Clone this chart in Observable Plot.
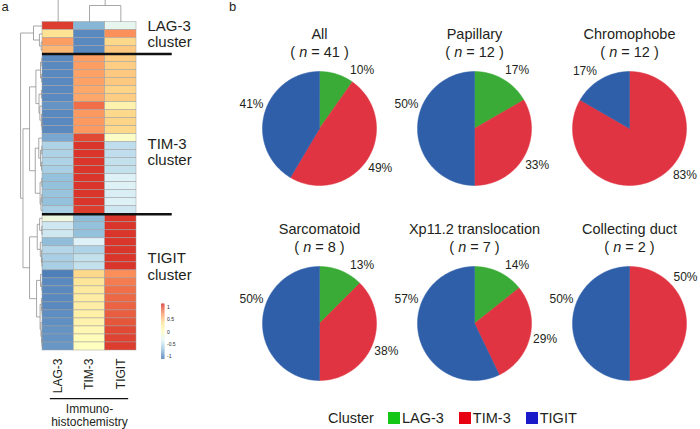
<!DOCTYPE html>
<html>
<head>
<meta charset="utf-8">
<script src="https://cdn.jsdelivr.net/npm/d3@7"></script>
<script src="https://cdn.jsdelivr.net/npm/@observablehq/plot@0.6"></script>
<style>
html, body { margin: 0; padding: 0; background: #fff; }
#wrap { position: relative; width: 700px; height: 429px; overflow: hidden;
  font-family: "Liberation Sans", Arial, sans-serif; color: #231f20; }
#wrap > * { position: absolute; }
.panel-letter { font-size: 13px; line-height: 13px; }
.clegend { display: flex; align-items: center; font-size: 14.5px; line-height: 16px; white-space: nowrap; }
.clegend .sw { display: inline-block; width: 12px; height: 12px; margin-right: 2px; }
</style>
</head>
<body>
<div id="wrap"></div>
<script>
// ---------------- data: heatmap (panel a) ----------------
const markers = ["LAG-3", "TIM-3", "TIGIT"];
const lag3Expr = [
  1.05, 0.33, 0.66, 0.55,
  -1.0, -1.0, -1.0, -1.0, -1.0, -1.0, -0.95, -1.0, -1.0, -1.0,
  -0.85, -0.6, -0.6, -0.6, -0.62, -0.72, -0.72, -0.7, -0.72, -0.62,
  -0.2, -0.45, -0.45, -0.74, -0.57, -0.62, -0.62,
  -1.05, -1.0, -1.0, -1.0, -1.0, -0.98, -0.97, -0.95, -0.95, -0.93];
const tim3Expr = [
  -0.78, -1.0, -1.0, -1.0,
  0.66, 0.66, 0.64, 0.64, 0.62, 0.62, 0.85, 0.68, 0.68, 0.68,
  1.0, 1.08, 1.08, 1.08, 1.08, 1.08, 1.08, 1.08, 1.08, 1.05,
  -0.75, -0.72, -0.72, -0.38, -0.6, -0.5, -0.5,
  0.4, 0.3, 0.25, 0.22, 0.2, 0.18, 0.15, 0.1, 0.05, 0.0];
const tigitExpr = [
  -0.3, 0.72, 0.4, 0.47,
  0.45, 0.45, 0.47, 0.47, 0.42, 0.45, 0.15, 0.4, 0.42, 0.4,
  -0.05, -0.52, -0.52, -0.5, -0.5, -0.38, -0.38, -0.4, -0.38, -0.45,
  1.08, 1.08, 1.08, 1.08, 1.08, 1.08, 1.08,
  0.73, 0.8, 0.85, 0.88, 0.9, 0.92, 0.95, 1.0, 1.02, 1.05];
const clusterNames = ["LAG-3", "TIM-3", "TIGIT"];
const clusterSizes = [4, 20, 17];
const legendTicks = [1, 0.5, 0, -0.5, -1];

// dendrograms: [left, right, mergeHeight]; numbers are row / column indices
const lagTree = [0, [1, [2, 3, 0.06], 0.14], 0.41];
const timTree = [
  [[[4, 5, 0.03], [6, 7, 0.04], 0.09], [[8, 9, 0.05], [10, [11, [12, 13, 0.02], 0.05], 0.12], 0.16], 0.30],
  [[14, [[15, 16, 0.03], [17, 18, 0.04], 0.09], 0.17], [[19, 20, 0.03], [[21, 22, 0.03], 23, 0.07], 0.11], 0.33],
  0.59];
const tigitTree = [
  [[24, [25, 26, 0.03], 0.13], [27, [28, [29, 30, 0.02], 0.05], 0.10], 0.24],
  [[31, [32, 33, 0.03], 0.09], [[34, [35, 36, 0.02], 0.05], [37, [38, [39, 40, 0.02], 0.04], 0.07], 0.11], 0.27],
  0.59];
const rowTree = [lagTree, [timTree, tigitTree, 0.89], 1.0];
const colTree = [0, [1, 2, 0.71], 1.0];

// ---------------- data: pies (panel b) ----------------
const groups = ["All", "Papillary", "Chromophobe", "Sarcomatoid", "Xp11.2 translocation", "Collecting duct"];
const lag3Count = [4, 2, 0, 1, 1, 0];
const tim3Count = [20, 4, 10, 3, 2, 1];
const tigitCount = [17, 6, 2, 4, 4, 1];

// ---------------- styles ----------------
const heatPalette = ["#4575B4", "#91BFDB", "#E0F3F8", "#FFFFBF", "#FEE090", "#FC8D59", "#D73027"];
const pieColors = ["#3aab37", "#e03443", "#2f5fa9"];
const legendColors = ["#16c616", "#e60012", "#1a1ac8"];
const FONT = '"Liberation Sans", Arial, sans-serif';
const TEXT = "#231f20";

const wrap = document.getElementById("wrap");
const colorScale = {type: "linear", domain: [-1.1, 1.1], interpolate: d3.piecewise(d3.interpolateRgb, heatPalette)};

// ---------------- heatmap ----------------
const exprCols = [lag3Expr, tim3Expr, tigitExpr];
const cells = [];
exprCols.forEach((arr, c) => arr.forEach((v, r) => cells.push({c, r, v})));

function dendro(node, segs) {
  if (typeof node === "number") return {p: node + 0.5, h: 0};
  const [a, b, h] = node;
  const A = dendro(a, segs), B = dendro(b, segs);
  segs.push({p1: A.p, h1: h, p2: B.p, h2: h});
  segs.push({p1: A.p, h1: h, p2: A.p, h2: A.h});
  segs.push({p1: B.p, h1: h, p2: B.p, h2: B.h});
  return {p: (A.p + B.p) / 2, h};
}
const rowSegs = []; dendro(rowTree, rowSegs);
const colSegs = []; dendro(colTree, colSegs);
const KX = 0.70;  // column units per unit of merge height
const KY = 2.9;   // row units per unit of merge height

const bounds = d3.cumsum(clusterSizes);
const starts = [0, ...bounds.slice(0, -1)];
const mids = clusterSizes.map((s, i) => starts[i] + s / 2);
const labelDy = [-4, 17.5, -16];

const heat = Plot.plot({
  width: 200, height: 429, margin: 0,
  x: {type: "linear", domain: [0, 3], range: [42, 136], axis: null},
  y: {type: "linear", domain: [0, 41], range: [21.5, 350], axis: null},
  color: colorScale,
  style: {background: "transparent", overflow: "hidden", fontFamily: FONT, color: TEXT},
  marks: [
    Plot.rect(cells, {x1: "c", x2: d => d.c + 1, y1: "r", y2: d => d.r + 1, fill: "v", stroke: "#a0a0a0", strokeWidth: 0.5}),
    Plot.link(rowSegs, {x1: d => -d.h1 * KX, y1: "p1", x2: d => -d.h2 * KX, y2: "p2", stroke: "#909090", strokeWidth: 0.8}),
    Plot.link(colSegs, {x1: "p1", y1: d => -d.h1 * KY, x2: "p2", y2: d => -d.h2 * KY, stroke: "#909090", strokeWidth: 0.8}),
    Plot.ruleY(bounds.slice(0, -1), {x1: 0, x2: 4.14, stroke: "#111", strokeWidth: 2.6}),
    Plot.text(markers, {x: (d, i) => i + 0.5, y: 42, rotate: -90, textAnchor: "end", fontSize: 12, fill: TEXT}),
    Plot.ruleY([47], {x1: 0.25, x2: 2.75, stroke: "#111", strokeWidth: 1.2}),
    Plot.text(["Immuno-\nhistochemistry"], {x: 1.5, y: 47.6, lineAnchor: "top", fontSize: 12, lineHeight: 1.08, fill: TEXT}),
    ...clusterNames.map((name, i) => Plot.text([name + "\ncluster"], {
      x: 3.35, y: mids[i], dy: labelDy[i], textAnchor: "start", lineAnchor: "middle",
      fontSize: 15, lineHeight: 1.09, fill: TEXT})),
    Plot.text(["a"], {frameAnchor: "top-left", dx: 1, dy: 1, lineAnchor: "top", fontSize: 13, fill: TEXT})
  ]
});
heat.style.left = "0px"; heat.style.top = "0px";
wrap.appendChild(heat);

// ---------------- colour key ----------------
const legendVals = d3.range(-1.12, 1.12, 0.02);
const key = Plot.plot({
  width: 30, height: 70, margin: 0,
  x: {type: "linear", domain: [0, 1], range: [6, 9.5], axis: null},
  y: {type: "linear", domain: [-1, 1], range: [59, 10], axis: null},
  color: colorScale,
  style: {background: "transparent", overflow: "visible", fontFamily: FONT, color: TEXT},
  marks: [
    Plot.rect(legendVals, {x1: 0, x2: 1, y1: d => d, y2: d => d + 0.021, fill: d => d}),
    Plot.text(legendTicks, {x: 1, y: d => d, dx: 2, textAnchor: "start", fontSize: 5, fill: TEXT, text: d => String(d)})
  ]
});
key.style.left = "155px"; key.style.top = "297px";
wrap.appendChild(key);

// ---------------- panel b letter ----------------
const b = document.createElement("div");
b.className = "panel-letter"; b.textContent = "b";
b.style.left = "229px"; b.style.top = "0px";
wrap.appendChild(b);

// ---------------- pies ----------------
const R = 57;
const LABEL_R = 1.27;
const deg = Math.PI / 180;
groups.forEach((g, i) => {
  const col = i % 3, row = Math.floor(i / 3);
  const cx = 318.5 + col * 155.25, cy = 128 + row * 195;
  const counts = [lag3Count[i], tim3Count[i], tigitCount[i]];
  const total = d3.sum(counts);
  const arcs = d3.pie().sort(null)(counts);
  const poly = [], labels = [];
  arcs.forEach((a, k) => {
    if (a.value === 0) return;
    const span = a.endAngle - a.startAngle;
    const n = Math.max(2, Math.ceil(span / deg));
    poly.push({m: markers[k], x: 0, y: 0});
    for (let j = 0; j <= n; j++) {
      const t = a.startAngle + span * j / n;
      poly.push({m: markers[k], x: Math.sin(t), y: Math.cos(t)});
    }
    poly.push({m: markers[k], x: 0, y: 0});
    // label angle: slice middle, kept clear of the titles above the pie and of the page edge
    let mid = (a.startAngle + a.endAngle) / 2;
    if (mid <= Math.PI) {
      mid = Math.min(Math.max(mid, 36 * deg), 130 * deg);
      const lim = (685 - cx) / (LABEL_R * R);
      if (lim < 1 && Math.sin(mid) > lim) mid = mid <= Math.PI / 2 ? Math.asin(lim) : Math.PI - Math.asin(lim);
    } else {
      mid = Math.min(Math.max(mid, 290 * deg), 322 * deg);
    }
    labels.push({x: LABEL_R * Math.sin(mid), y: LABEL_R * Math.cos(mid), t: Math.round(a.value / total * 100) + "%"});
  });
  const pie = Plot.plot({
    width: 156, height: 200, margin: 0,
    x: {type: "linear", domain: [-1, 1], range: [78 - R, 78 + R], axis: null},
    y: {type: "linear", domain: [-1, 1], range: [120 + R, 120 - R], axis: null},
    color: {type: "ordinal", domain: markers, range: pieColors},
    style: {background: "transparent", overflow: "visible", fontFamily: FONT, color: TEXT},
    marks: [
      Plot.line(poly, {x: "x", y: "y", z: "m", fill: "m", stroke: "m", strokeWidth: 0.5, curve: "linear"}),
      Plot.text(labels, {x: "x", y: "y", text: "t", fontSize: 12, fill: TEXT}),
      Plot.text([g], {frameAnchor: "top", dy: 30.5, lineAnchor: "bottom", fontSize: 14.5, fill: TEXT}),
      Plot.text([`( n = ${total} )`], {frameAnchor: "top", dy: 48.5, lineAnchor: "bottom", fontSize: 14.5, fill: TEXT})
    ]
  });
  pie.querySelectorAll("text").forEach(el => {
    if (el.textContent.startsWith("( n =")) {
      const rest = el.textContent.slice(3);
      el.textContent = "";
      el.appendChild(document.createTextNode("( "));
      const ts = document.createElementNS("http://www.w3.org/2000/svg", "tspan");
      ts.setAttribute("font-style", "italic");
      ts.textContent = "n";
      el.appendChild(ts);
      el.appendChild(document.createTextNode(rest));
    }
  });
  pie.style.left = (cx - 78) + "px";
  pie.style.top = (cy - 120) + "px";
  wrap.appendChild(pie);
});

// ---------------- cluster legend ----------------
const leg = document.createElement("div");
leg.className = "clegend";
leg.style.left = "328px"; leg.style.top = "410px";
const lab = document.createElement("span");
lab.textContent = "Cluster"; lab.style.marginRight = "14px";
leg.appendChild(lab);
markers.forEach((m, k) => {
  const sw = document.createElement("span");
  sw.className = "sw"; sw.style.background = legendColors[k];
  leg.appendChild(sw);
  const t = document.createElement("span");
  t.textContent = m;
  if (k < markers.length - 1) t.style.marginRight = "15px";
  leg.appendChild(t);
});
wrap.appendChild(leg);
</script>
</body>
</html>
